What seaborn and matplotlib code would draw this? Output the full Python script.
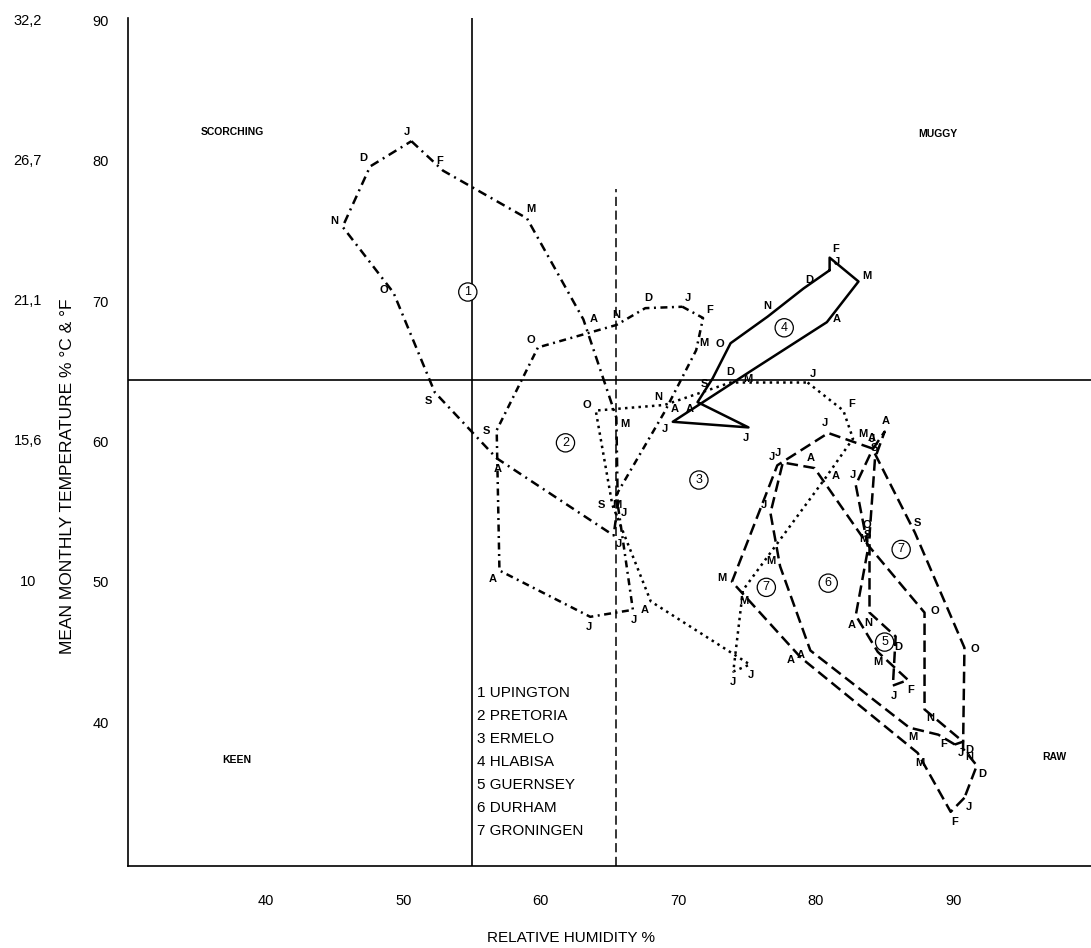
import numpy as np
import pandas as pd
import seaborn as sns
from matplotlib import pyplot as plt

MONTHS = ["J", "F", "M", "A", "M", "J", "J", "A", "S", "O", "N", "D"]
STATIONS = ["UPINGTON", "PRETORIA", "ERMELO", "HLABISA", "GUERNSEY", "DURHAM", "GRONINGEN"]

# relative humidity (%) and mean monthly temperature (deg F), January to December
upington_rh = [50.6, 52.9, 59.0, 63.1, 65.5, 65.6, 65.3, 56.8, 52.3, 49.3, 45.6, 47.6]
upington_t = [81.4, 79.3, 75.9, 68.7, 61.7, 55.5, 53.3, 58.8, 63.5, 70.6, 75.3, 79.6]
pretoria_rh = [70.3, 71.8, 71.3, 69.0, 65.5, 66.7, 63.6, 57.0, 56.8, 59.8, 65.5, 67.6]
pretoria_t = [69.6, 68.8, 66.5, 62.1, 56.2, 48.0, 47.5, 50.8, 60.8, 66.7, 68.3, 69.5]
ermelo_rh = [79.4, 82.0, 82.7, 80.7, 74.7, 74.0, 75.2, 68.0, 65.2, 64.0, 69.0, 73.8]
ermelo_t = [64.2, 62.2, 60.2, 57.4, 49.4, 43.6, 44.1, 48.6, 55.5, 62.2, 62.6, 64.2]
hlabisa_rh = [81.0, 81.0, 83.1, 80.8, 75.4, 69.6, 75.1, 71.4, 72.5, 73.8, 76.5, 79.1]
hlabisa_t = [72.2, 73.1, 71.4, 68.5, 65.1, 61.4, 61.0, 62.8, 64.5, 67.0, 68.9, 70.9]
guernsey_rh = [85.6, 86.7, 84.5, 82.9, 83.8, 82.9, 84.1, 85.0, 84.3, 83.9, 83.9, 85.8]
guernsey_t = [42.6, 43.0, 45.0, 47.6, 52.4, 56.9, 59.4, 60.7, 58.8, 53.3, 47.8, 46.1]
durham_rh = [90.1, 88.9, 86.8, 79.6, 77.4, 76.7, 77.6, 79.9, 83.8, 87.9, 87.9, 90.7]
durham_t = [38.4, 39.1, 39.6, 45.1, 51.1, 54.9, 58.5, 58.1, 52.6, 47.8, 40.9, 38.6]
groningen_rh = [90.8, 89.8, 87.4, 78.9, 73.9, 77.2, 80.9, 84.1, 87.2, 90.8, 90.7, 91.7]
groningen_t = [34.6, 33.6, 37.8, 44.6, 50.0, 58.3, 60.6, 59.5, 53.5, 45.3, 38.1, 36.9]

ZONES = ["SCORCHING", "MUGGY", "KEEN", "RAW"]
CELSIUS = ["32,2", "26,7", "21,1", "15,6", "10"]
CELSIUS_AT = [90, 80, 70, 60, 50]

rh_series = [upington_rh, pretoria_rh, ermelo_rh, hlabisa_rh, guernsey_rh, durham_rh, groningen_rh]
t_series = [upington_t, pretoria_t, ermelo_t, hlabisa_t, guernsey_t, durham_t, groningen_t]

rows = []
for name, rh, t in zip(STATIONS, rh_series, t_series):
    # close each yearly loop by returning to January
    for i, k in enumerate(list(range(12)) + [0]):
        rows.append({"station": name, "order": i, "rh": rh[k], "temp": t[k]})
df = pd.DataFrame(rows)

DASHES = {
    "UPINGTON": (3.6, 2.0, 0.8, 2.0),
    "PRETORIA": (2.8, 1.8, 0.8, 1.8),
    "ERMELO": (1.0, 1.7),
    "HLABISA": "",
    "GUERNSEY": (4.6, 2.2),
    "DURHAM": (4.6, 2.2),
    "GRONINGEN": (4.6, 2.2),
}

sns.set_theme(style="white")
plt.rcParams["font.family"] = ["Liberation Sans", "DejaVu Sans"]
for key in ["text.color", "axes.labelcolor", "xtick.color", "ytick.color"]:
    plt.rcParams[key] = "black"

fig = plt.figure(figsize=(10.91, 9.48), dpi=100)
ax = fig.add_axes([128 / 1091, 82 / 948, 963 / 1091, 848 / 948])

sns.lineplot(
    data=df, x="rh", y="temp", style="station", dashes=DASHES, sort=False,
    estimator=None, units="station", color="black", lw=1.8, legend=False, ax=ax,
)

# month initials placed outward from each loop's centre
for rh, t in zip(rh_series, t_series):
    cx, cy = np.mean(rh), np.mean(t)
    for m, x, y in zip(MONTHS, rh, t):
        dx, dy = (x - cx) * 13.76, (y - cy) * 14.03
        n = np.hypot(dx, dy) or 1.0
        ax.annotate(m, (x, y), xytext=(7.5 * dx / n, 7.5 * dy / n), textcoords="offset points",
                    ha="center", va="center", fontsize=8, fontweight="bold")

# station number circles
circles = [("1", 54.7, 70.65), ("2", 61.8, 59.9), ("3", 71.5, 57.25), ("4", 77.7, 68.1),
           ("5", 85.0, 45.7), ("6", 80.9, 49.9), ("7", 76.4, 49.6), ("7", 86.2, 52.3)]
for s, x, y in circles:
    ax.text(x, y, s, ha="center", va="center", fontsize=9,
            bbox=dict(boxstyle="circle,pad=0.25", fc="white", ec="black", lw=0.9))

# comfort zone dividers
ax.axhline(64.4, color="black", lw=1.2)
ax.axvline(55.0, color="black", lw=1.2)
ax.vlines(65.5, 29.74, 78.0, colors="black", lw=1.1, linestyles=(0, (6, 3)))

for z, x, y in zip(ZONES, [37.6, 88.9, 37.9, 97.3], [82.05, 81.9, 37.3, 37.5]):
    ax.text(x, y, z, ha="center", va="center", fontsize=7.5, fontweight="bold")

for i, name in enumerate(STATIONS):
    ax.text(55.4, 42.1 - i * 1.64, f"{i + 1} {name}", ha="left", va="center", fontsize=11)

ax.set_xlim(30, 100)
ax.set_ylim(29.74, 90.18)
ax.set_xticks([40, 50, 60, 70, 80, 90])
ax.set_yticks([40, 50, 60, 70, 80, 90])
ax.tick_params(length=0, labelsize=10.5, pad=14)
ax.tick_params(axis="x", pad=20)
ax.set_xlabel("RELATIVE HUMIDITY %", fontsize=11)
ax.set_ylabel("MEAN MONTHLY TEMPERATURE % °C & °F", fontsize=12.5)
ax.xaxis.set_label_coords(0.46, -0.077)
ax.yaxis.set_label_coords(-0.055, 0.46)
for c, v in zip(CELSIUS, CELSIUS_AT):
    ax.text(-0.104, v, c, transform=ax.get_yaxis_transform(), ha="center", va="center", fontsize=10.5)

for side in ["top", "right"]:
    ax.spines[side].set_visible(False)
for side in ["left", "bottom"]:
    ax.spines[side].set_color("black")
    ax.spines[side].set_linewidth(1.2)

fig.savefig("out.png", dpi=100)
